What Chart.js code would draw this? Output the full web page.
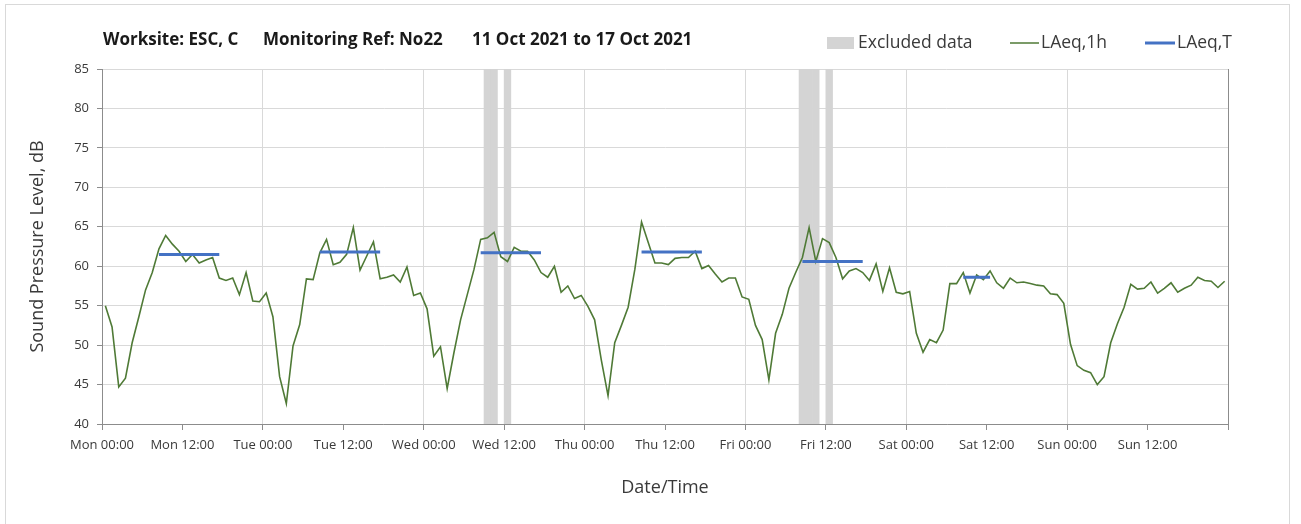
<!DOCTYPE html>
<html>
<head>
<meta charset="utf-8">
<script src="https://cdn.jsdelivr.net/npm/chart.js@4.4.1/dist/chart.umd.min.js"></script>
<style>
  html, body { margin: 0; padding: 0; background: #ffffff; }
  #wrap { width: 1301px; height: 524px; }
</style>
</head>
<body>
<div id="wrap"><canvas id="c" width="1301" height="524"></canvas></div>
<script>
// ---------------- data ----------------
const dayNames = ['Mon', 'Tue', 'Wed', 'Thu', 'Fri', 'Sat', 'Sun'];

const titleParts = ['Worksite: ESC, C', 'Monitoring Ref: No22', '11 Oct 2021 to 17 Oct 2021'];

// hourly LAeq,1h values, Mon 00:00 .. Sun 23:00
const laeqMon = [55.0, 52.3, 44.7, 45.8, 50.3, 53.6, 57.0, 59.2, 62.2, 63.9, 62.8, 61.9,
                 60.6, 61.5, 60.4, 60.8, 61.1, 58.5, 58.2, 58.5, 56.4, 59.2, 55.6, 55.5];
const laeqTue = [56.6, 53.6, 46.0, 42.6, 49.9, 52.6, 58.4, 58.3, 61.7, 63.4, 60.2, 60.5,
                 61.5, 64.9, 59.5, 61.3, 63.1, 58.4, 58.6, 58.9, 58.0, 59.9, 56.3, 56.6];
const laeqWed = [54.6, 48.6, 49.8, 44.5, 49.0, 53.2, 56.4, 59.6, 63.4, 63.6, 64.3, 61.2,
                 60.6, 62.4, 61.9, 61.9, 60.8, 59.2, 58.6, 60.0, 56.7, 57.5, 55.9, 56.3];
const laeqThu = [54.9, 53.2, 48.1, 43.6, 50.3, 52.5, 54.8, 59.6, 65.6, 63.0, 60.4, 60.4,
                 60.2, 61.0, 61.1, 61.1, 61.9, 59.7, 60.1, 59.0, 58.0, 58.5, 58.5, 56.1];
const laeqFri = [55.8, 52.5, 50.7, 45.6, 51.5, 53.9, 57.2, 59.2, 61.1, 64.9, 60.6, 63.5,
                 63.0, 61.1, 58.4, 59.4, 59.7, 59.2, 58.2, 60.3, 56.8, 59.8, 56.7, 56.5];
const laeqSat = [56.8, 51.5, 49.1, 50.7, 50.3, 51.9, 57.8, 57.8, 59.2, 56.6, 58.9, 58.3,
                 59.4, 57.9, 57.2, 58.5, 57.9, 58.0, 57.8, 57.6, 57.5, 56.5, 56.4, 55.3];
const laeqSun = [50.1, 47.4, 46.8, 46.5, 45.0, 46.0, 50.3, 52.7, 54.8, 57.7, 57.1, 57.2,
                 58.0, 56.6, 57.2, 57.9, 56.7, 57.2, 57.6, 58.6, 58.2, 58.1, 57.3, 58.1];

// excluded data (hour index from Mon 00:00)
const excludedHours = [57, 58, 60, 104, 105, 106, 108];

// LAeq,T periods (first and last hour index) and levels
const laeqTStart = [8, 32, 56, 80, 104, 128];
const laeqTEnd   = [17, 41, 65, 89, 113, 132];
const laeqTValue = [61.5, 61.8, 61.7, 61.8, 60.6, 58.6];

const yTickMin = 40, yTickMax = 85, yTickStep = 5;
const xTickStep = 12, xMax = 168;

// ---------------- build datasets ----------------
const laeq1h = [].concat(laeqMon, laeqTue, laeqWed, laeqThu, laeqFri, laeqSat, laeqSun);
const lineData = laeq1h.map((v, i) => ({ x: i + 0.5, y: v }));
const excludedData = excludedHours.map(h => ({ x: h + 0.5, y: yTickMax }));
const laeqTData = [];
laeqTStart.forEach((s, k) => {
  if (k > 0) laeqTData.push({ x: s - 0.5, y: null });
  laeqTData.push({ x: s + 0.5, y: laeqTValue[k] });
  laeqTData.push({ x: laeqTEnd[k] + 0.5, y: laeqTValue[k] });
});

const FONT = "'Open Sans', 'DejaVu Sans', sans-serif";
const TXT = '#3a3a3a';
const AXIS = '#8c8c8c';
const GRID = '#d9d9d9';

const COL_EXCL = '#d4d4d4';
const COL_1H = '#4f7a36';
const COL_T = '#4472c4';

const decorPlugin = {
  id: 'decor',
  beforeDraw(chart) {
    const ctx = chart.ctx;
    ctx.save();
    ctx.fillStyle = '#ffffff';
    ctx.fillRect(0, 0, chart.width, chart.height);
    ctx.strokeStyle = '#d9d9d9';
    ctx.lineWidth = 1;
    ctx.strokeRect(5.5, 4.5, 1284, 540);
    ctx.restore();
  },
  afterDraw(chart) {
    const ctx = chart.ctx;
    ctx.save();
    // title
    ctx.fillStyle = '#1a1a1a';
    ctx.font = "bold 17px " + FONT;
    ctx.textBaseline = 'middle';
    ctx.textAlign = 'left';
    const tx = [103, 263, 472];
    titleParts.forEach((t, i) => ctx.fillText(t, tx[i], 40));
    // legend
    const ds = chart.data.datasets;
    ctx.font = "17.5px " + FONT;
    const ly = 43;
    // excluded
    ctx.fillStyle = ds[0].backgroundColor;
    ctx.fillRect(827, 37, 27, 12);
    ctx.fillStyle = TXT;
    ctx.fillText(ds[0].label, 858, ly);
    // LAeq,1h
    ctx.strokeStyle = ds[1].borderColor;
    ctx.lineWidth = 1.5;
    ctx.beginPath(); ctx.moveTo(1010, ly); ctx.lineTo(1039, ly); ctx.stroke();
    ctx.fillText(ds[1].label, 1041, ly);
    // LAeq,T
    ctx.strokeStyle = ds[2].borderColor;
    ctx.lineWidth = 3;
    ctx.beginPath(); ctx.moveTo(1145, ly); ctx.lineTo(1175, ly); ctx.stroke();
    ctx.fillText(ds[2].label, 1177, ly);
    ctx.restore();
  }
};

new Chart(document.getElementById('c'), {
  type: 'line',
  data: {
    datasets: [
      {
        type: 'bar',
        label: 'Excluded data',
        data: excludedData,
        backgroundColor: COL_EXCL,
        borderWidth: 0,
        barPercentage: 1.0,
        categoryPercentage: 1.0,
        order: 3
      },
      {
        label: 'LAeq,1h',
        data: lineData,
        borderColor: COL_1H,
        borderWidth: 1.6,
        pointRadius: 0,
        tension: 0,
        fill: false,
        order: 2
      },
      {
        label: 'LAeq,T',
        data: laeqTData,
        borderColor: COL_T,
        borderWidth: 3,
        pointRadius: 0,
        tension: 0,
        spanGaps: false,
        fill: false,
        order: 1
      }
    ]
  },
  options: {
    responsive: false,
    animation: false,
    events: [],
    layout: { padding: { left: 0, right: 73, top: 69, bottom: 0 } },
    plugins: {
      legend: { display: false },
      title: { display: false },
      tooltip: { enabled: false }
    },
    scales: {
      x: {
        type: 'linear',
        min: 0,
        max: xMax,
        offset: false,
        afterFit: s => { s.height = 100; },
        afterBuildTicks: s => {
          const t = [];
          for (let v = 0; v <= xMax; v += xTickStep) t.push({ value: v });
          s.ticks = t;
        },
        ticks: {
          autoSkip: false,
          maxRotation: 0,
          minRotation: 0,
          padding: 7,
          color: TXT,
          font: { family: FONT, size: 13 },
          callback: v => {
            if (v >= xMax) return '';
            const d = dayNames[Math.floor(v / 24) % 7];
            const h = v % 24;
            return d + ' ' + (h < 10 ? '0' + h : h) + ':00';
          }
        },
        grid: {
          offset: false,
          color: c => {
            const v = c.tick ? c.tick.value : 0;
            if (v === xMax) return AXIS;
            return v % 24 === 0 ? GRID : 'rgba(0,0,0,0)';
          },
          tickColor: AXIS,
          tickLength: 6,
          lineWidth: 1
        },
        border: { color: AXIS, width: 1 },
        title: {
          display: true,
          text: 'Date/Time',
          color: TXT,
          font: { family: FONT, size: 18 },
          padding: { top: 0, bottom: 25 }
        }
      },
      y: {
        min: yTickMin,
        max: yTickMax,
        afterFit: s => { s.width = 102; },
        ticks: {
          stepSize: yTickStep,
          padding: 8,
          color: TXT,
          font: { family: FONT, size: 13 }
        },
        grid: {
          color: GRID,
          tickColor: AXIS,
          tickLength: 5,
          lineWidth: 1
        },
        border: { color: AXIS, width: 1 },
        title: {
          display: true,
          text: 'Sound Pressure Level, dB',
          color: TXT,
          font: { family: FONT, size: 18 },
          padding: { top: 27, bottom: 0 }
        }
      }
    }
  },
  plugins: [decorPlugin]
});
</script>
</body>
</html>
